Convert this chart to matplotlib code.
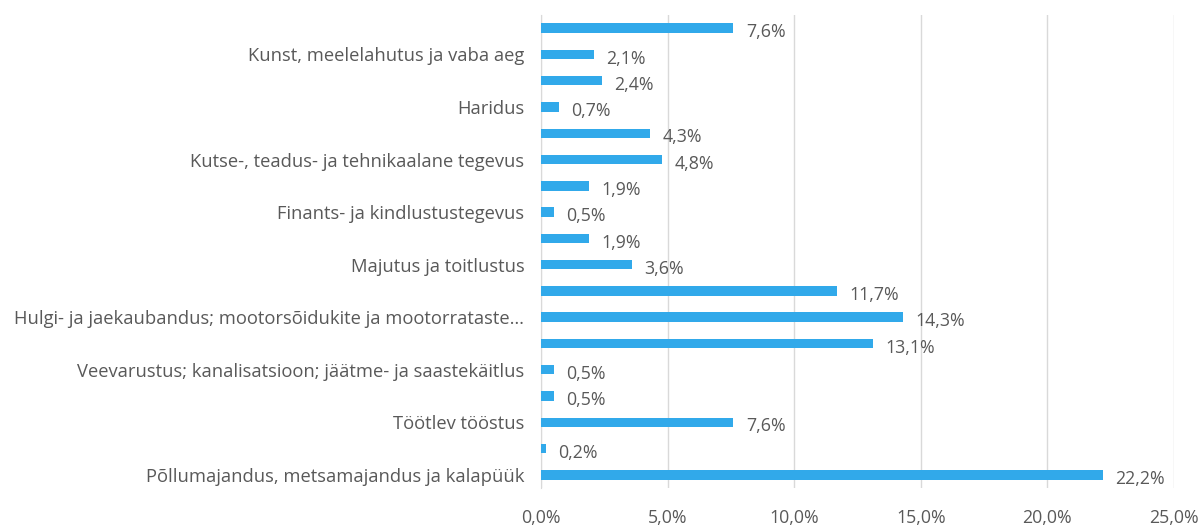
import matplotlib.pyplot as plt

plt.rcParams['font.family'] = ['Open Sans', 'DejaVu Sans']

# bottom to top
categories = [
    'Põllumajandus, metsamajandus ja kalapüük',
    'Mäetööstus',
    'Töötlev tööstus',
    'Elektrienergia, gaasi, auru ja konditsioneeritud õhuga varustamine',
    'Veevarustus; kanalisatsioon; jäätme- ja saastekäitlus',
    'Ehitus',
    'Hulgi- ja jaekaubandus; mootorsõidukite ja mootorrataste…',
    'Veondus ja laondus',
    'Majutus ja toitlustus',
    'Info ja side',
    'Finants- ja kindlustustegevus',
    'Kinnisvaraalane tegevus',
    'Kutse-, teadus- ja tehnikaalane tegevus',
    'Haldus- ja abitegevused',
    'Haridus',
    'Tervishoid ja sotsiaalhoolekanne',
    'Kunst, meelelahutus ja vaba aeg',
    'Muud teenindavad tegevused',
]
values = [22.2, 0.2, 7.6, 0.5, 0.5, 13.1, 14.3, 11.7, 3.6, 1.9, 0.5, 1.9, 4.8, 4.3, 0.7, 2.4, 2.1, 7.6]
x_ticks = [0, 5, 10, 15, 20, 25]

text_col = '#595959'
fig = plt.figure(figsize=(12.04, 5.26), dpi=100)
ax = fig.add_axes([0.4493, 0.0722, 0.5257, 0.8993])

pos = list(range(len(values)))
ax.barh(pos, values, height=0.36, color='#31A9EA', zorder=3)

for p, v in zip(pos, values):
    ax.annotate(f'{v:.1f}%'.replace('.', ','), (v, p), xytext=(9, -3),
                textcoords='offset points', ha='left', va='center',
                fontsize=12.8, color=text_col)

ax.set_xlim(0, 25)
ax.set_ylim(-0.5, len(values) - 0.5)
ax.set_xticks(x_ticks)
ax.set_xticklabels([f'{t:.1f}%'.replace('.', ',') for t in x_ticks], fontsize=12.8, color=text_col)
ax.set_yticks(pos[::2])
ax.set_yticklabels(categories[::2], fontsize=13.2, color=text_col)
ax.tick_params(axis='x', length=0, pad=15)
ax.tick_params(axis='y', length=0, pad=12)

ax.grid(axis='x', color='#D9D9D9', linewidth=1, zorder=0)
for s in ['top', 'right', 'bottom']:
    ax.spines[s].set_visible(False)
ax.spines['left'].set_color('#D9D9D9')
ax.spines['left'].set_zorder(1)

fig.savefig('out.png', dpi=100)
